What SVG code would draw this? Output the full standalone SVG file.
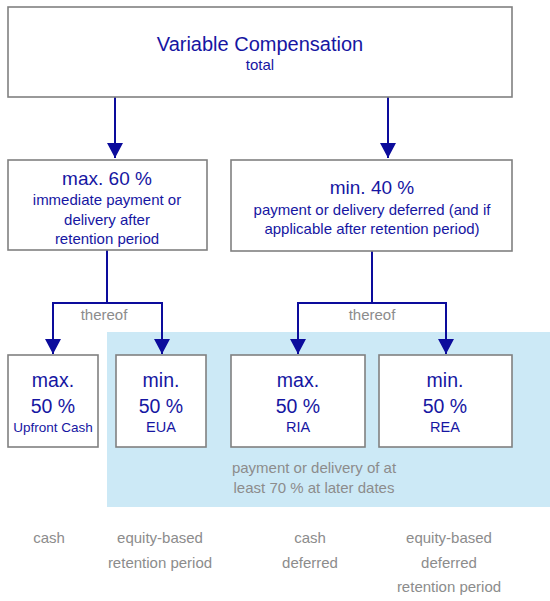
<svg xmlns="http://www.w3.org/2000/svg" width="550" height="601" viewBox="0 0 550 601">
<defs>
<marker id="ah" markerUnits="userSpaceOnUse" markerWidth="15" markerHeight="16" refX="15" refY="8" orient="auto" viewBox="0 0 15 16">
<path d="M0,0 L15,8 L0,16 Z" fill="#0c0c9c"/>
</marker>
</defs>
<style>
.box{fill:#fff;stroke:#808080;stroke-width:1.6}
.bl{font-family:"Liberation Sans",Arial,sans-serif;fill:#1616a2;text-anchor:middle}
.gr{font-family:"Liberation Sans",Arial,sans-serif;fill:#8c8c8c;text-anchor:middle;font-size:15px}
.c{fill:none;stroke:#0c0c9c;stroke-width:2}
</style>
<rect x="107" y="332" width="443" height="175" fill="#cce9f6"/>
<g id="connectors">
<path class="c" d="M115,97 V158" marker-end="url(#ah)"/>
<path class="c" d="M388,97 V158" marker-end="url(#ah)"/>
<path class="c" d="M107,250 V303 H53 V354" marker-end="url(#ah)"/>
<path class="c" d="M107,303 H162 V354" marker-end="url(#ah)"/>
<path class="c" d="M372,251 V303 H298 V354" marker-end="url(#ah)"/>
<path class="c" d="M372,303 H446 V354" marker-end="url(#ah)"/>
</g>
<g id="labels-thereof">
<text class="gr" x="104" y="320">thereof</text>
<text class="gr" x="372" y="320">thereof</text>
</g>
<g id="total">
<rect class="box" x="8" y="7" width="504" height="90"/>
<text class="bl" x="260" y="51" font-size="20">Variable Compensation</text>
<text class="bl" x="260" y="70" font-size="15">total</text>
</g>
<g id="immediate">
<rect class="box" x="8" y="160" width="199" height="90"/>
<text class="bl" x="107" y="185" font-size="19">max. 60 %</text>
<text class="bl" x="107" y="205" font-size="15">immediate payment or</text>
<text class="bl" x="107" y="225" font-size="15">delivery after</text>
<text class="bl" x="107" y="244" font-size="15">retention period</text>
</g>
<g id="deferred">
<rect class="box" x="231" y="160" width="281" height="91"/>
<text class="bl" x="372" y="194" font-size="19">min. 40 %</text>
<text class="bl" x="372" y="215" font-size="15">payment or delivery deferred (and if</text>
<text class="bl" x="372" y="234" font-size="15">applicable after retention period)</text>
</g>
<g id="upfront">
<rect class="box" x="8" y="355" width="90" height="92"/>
<text class="bl" x="53" y="387" font-size="19.5">max.</text>
<text class="bl" x="53" y="413" font-size="19.5">50 %</text>
<text class="bl" x="53" y="432" font-size="13.5">Upfront Cash</text>
</g>
<g id="eua">
<rect class="box" x="116" y="355" width="90" height="92"/>
<text class="bl" x="161" y="387" font-size="19.5">min.</text>
<text class="bl" x="161" y="413" font-size="19.5">50 %</text>
<text class="bl" x="161" y="432" font-size="14.5">EUA</text>
</g>
<g id="ria">
<rect class="box" x="231" y="355" width="134" height="92"/>
<text class="bl" x="298" y="387" font-size="19.5">max.</text>
<text class="bl" x="298" y="413" font-size="19.5">50 %</text>
<text class="bl" x="298" y="432" font-size="14.5">RIA</text>
</g>
<g id="rea">
<rect class="box" x="379" y="355" width="133" height="92"/>
<text class="bl" x="445" y="387" font-size="19.5">min.</text>
<text class="bl" x="445" y="413" font-size="19.5">50 %</text>
<text class="bl" x="445" y="432" font-size="14.5">REA</text>
</g>
<g id="later-note">
<text class="gr" x="314" y="473">payment or delivery of at</text>
<text class="gr" x="314" y="493">least 70 % at later dates</text>
</g>
<g id="bottom-labels">
<text class="gr" x="49" y="543">cash</text>
<text class="gr" x="160" y="543">equity-based</text>
<text class="gr" x="160" y="568">retention period</text>
<text class="gr" x="310" y="543">cash</text>
<text class="gr" x="310" y="568">deferred</text>
<text class="gr" x="449" y="543">equity-based</text>
<text class="gr" x="449" y="568">deferred</text>
<text class="gr" x="449" y="592">retention period</text>
</g>
</svg>
